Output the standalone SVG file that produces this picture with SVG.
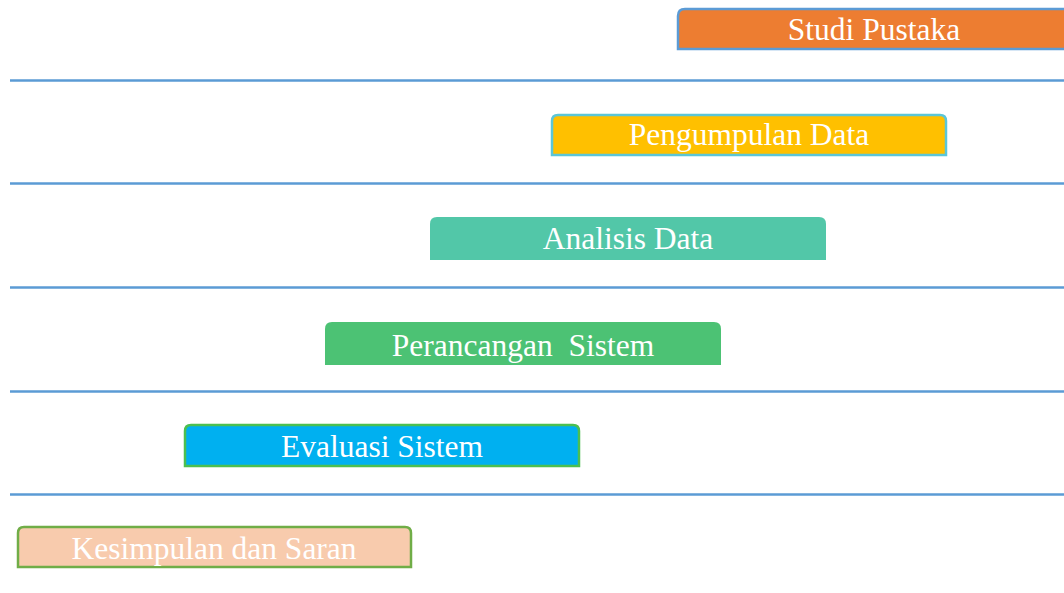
<svg xmlns="http://www.w3.org/2000/svg" width="1064" height="593" viewBox="0 0 1064 593">
<style>
.bar{stroke-width:2.5}
.lbl{font-family:"Liberation Serif","Times New Roman",serif;font-size:31.5px;fill:#ffffff;text-anchor:middle}
.sep{stroke:#5B9BD5;stroke-width:2.5}
</style>
<rect width="1064" height="593" fill="#ffffff"/>
<g id="connectors">
<line class="sep" x1="10" y1="80.5" x2="1064" y2="80.5"/>
<line class="sep" x1="10" y1="183.5" x2="1064" y2="183.5"/>
<line class="sep" x1="10" y1="287.5" x2="1064" y2="287.5"/>
<line class="sep" x1="10" y1="391.5" x2="1064" y2="391.5"/>
<line class="sep" x1="10" y1="494.5" x2="1064" y2="494.5"/>
</g>
<g id="studi-pustaka">
<path class="bar" d="M1066,49 H678 V16 Q678,9 685,9 H1066 Z" fill="#ED7D31" stroke="#5B9BD5"/>
<text class="lbl" x="874" y="40">Studi Pustaka</text>
</g>
<g id="pengumpulan-data">
<path class="bar" d="M552,155 V121 Q552,115 558,115 H940 Q946,115 946,121 V155 Z" fill="#FFC000" stroke="#5BC6D8"/>
<text class="lbl" x="749" y="145">Pengumpulan Data</text>
</g>
<g id="analisis-data">
<path d="M430,260 V224 Q430,217 437,217 H819 Q826,217 826,224 V260 Z" fill="#52C7A8"/>
<text class="lbl" x="628" y="249">Analisis Data</text>
</g>
<g id="perancangan-sistem">
<path d="M325,365 V329 Q325,322 332,322 H714 Q721,322 721,329 V365 Z" fill="#4CC274"/>
<text class="lbl" x="523" y="356" xml:space="preserve">Perancangan  Sistem</text>
</g>
<g id="evaluasi-sistem">
<path class="bar" d="M185,466 V431 Q185,425 191,425 H573 Q579,425 579,431 V466 Z" fill="#00B0F0" stroke="#4CBF50"/>
<text class="lbl" x="382" y="457">Evaluasi Sistem</text>
</g>
<g id="kesimpulan-dan-saran">
<path class="bar" d="M18,567 V533 Q18,527 24,527 H405 Q411,527 411,533 V567 Z" fill="#F8CBAD" stroke="#70AD47"/>
<text class="lbl" x="214" y="559">Kesimpulan dan Saran</text>
</g>
</svg>
